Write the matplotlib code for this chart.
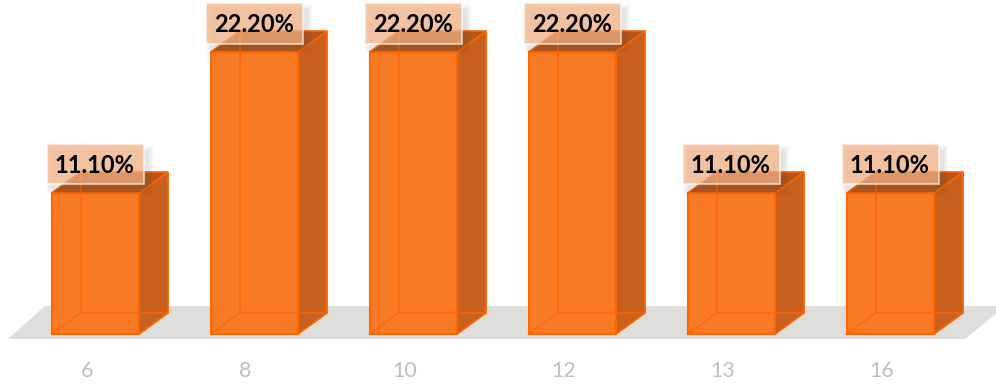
import matplotlib.pyplot as plt
from matplotlib.patches import Polygon, Rectangle

# chart data
categories = ['6', '8', '10', '12', '13', '16']
values = [11.1, 22.2, 22.2, 22.2, 11.1, 11.1]
labels = ['11.10%', '22.20%', '22.20%', '22.20%', '11.10%', '11.10%']

front_c = '#F97A25'
side_c = '#C9601E'
top_c = '#B5561A'
edge_c = '#FF6600'
floor_c = '#E0DED8'

fig = plt.figure(figsize=(9.96, 3.87), dpi=100)
ax = fig.add_axes([0, 0, 1, 1])
ax.set_xlim(-0.60, 5.664)
ax.set_ylim(-4.17, 26.3)
ax.axis('off')

w = 0.55     # bar width (category units)
dx = 0.182   # depth offset x
dy = 1.66    # depth offset y

# floor
ax.add_patch(Polygon([(-0.55, -0.39), (5.47, -0.39), (5.72, 2.2), (-0.318, 2.2)],
                     closed=True, fc=floor_c, ec='none', zorder=1))

for i, (v, lab) in enumerate(zip(values, labels)):
    x0, x1 = i - w / 2, i + w / 2
    # right side
    ax.add_patch(Polygon([(x1, 0), (x1 + dx, dy), (x1 + dx, v + dy), (x1, v)],
                         closed=True, fc=side_c, ec=edge_c, lw=1.2, zorder=3))
    # top
    ax.add_patch(Polygon([(x0, v), (x1, v), (x1 + dx, v + dy), (x0 + dx, v + dy)],
                         closed=True, fc=top_c, ec=edge_c, lw=1.2, zorder=3))
    # front
    ax.add_patch(Rectangle((x0, 0), w, v, fc=front_c, ec=edge_c, lw=1.5, zorder=4))
    # hidden back edges seen through the semi-transparent bar
    ax.plot([x0 + dx, x0 + dx], [dy, v + dy], color=edge_c, lw=1.2, alpha=0.8, zorder=5)
    ax.plot([x0 + dx, x1 + dx], [dy, dy], color=edge_c, lw=1.2, alpha=0.8, zorder=5)
    ax.plot([x0, x0 + dx], [0, dy], color=edge_c, lw=1.2, alpha=0.8, zorder=5)

    # soft label shadow, offset down/right
    bw, bh = 0.61, 3.15
    by = v + 2.25
    for k in range(4):
        g = 0.01 * k
        ax.add_patch(Rectangle((i - bw / 2 + 0.03 - g, by - bh / 2 - 0.45 - 0.12 * k),
                               bw + 2 * g, bh + 0.24 * k, fc='#404040', ec='none',
                               alpha=0.035, zorder=6))
    # label box (semi-transparent)
    ax.add_patch(Rectangle((i - bw / 2, by - bh / 2), bw, bh, fc='#F6B487', ec='white',
                           lw=1.2, alpha=0.7, zorder=7))
    ax.text(i - 0.005, by - 0.05, lab, ha='center', va='center', fontsize=17,
            fontweight='bold', family='Lato', color='black', zorder=8)

    # category label
    ax.text(i - 0.055, -2.9, categories[i], ha='center', va='center', fontsize=15.5,
            family='Lato', color='#BFBFBF')

fig.savefig('out.png', dpi=100)
